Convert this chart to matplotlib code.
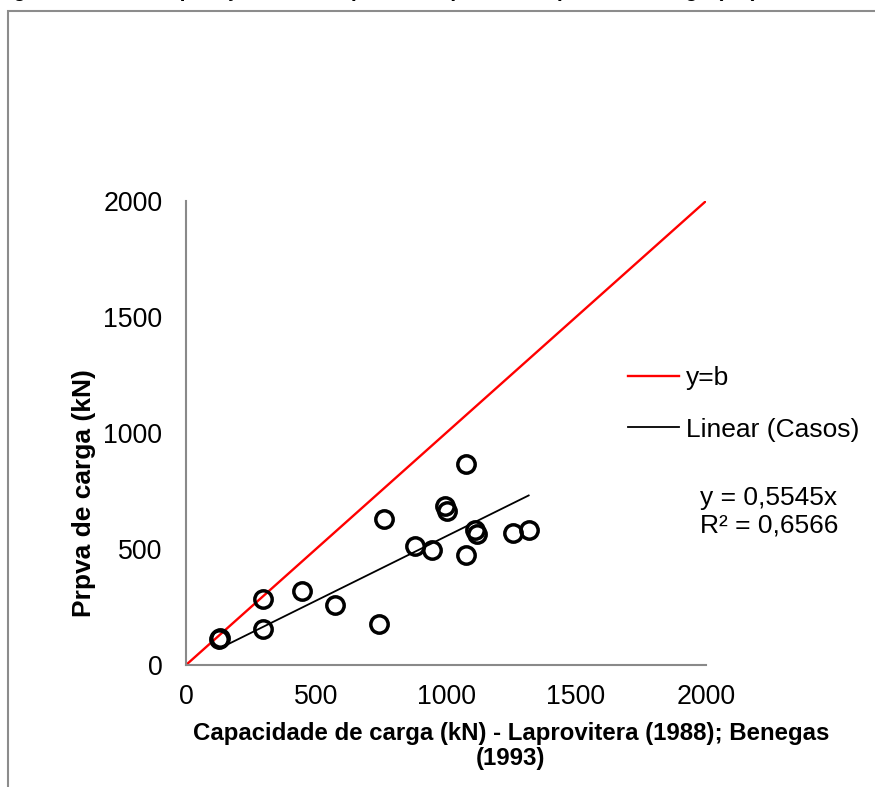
import matplotlib
matplotlib.use('Agg')
from matplotlib import pyplot as plt
from matplotlib.patches import Rectangle

plt.rcParams['font.family'] = ['Liberation Sans', 'DejaVu Sans']

# capacidade prevista (kN) x prova de carga (kN)
cap_prevista = [127, 131, 297, 297, 447, 574, 744, 762, 881, 947, 997, 1003,
                1077, 1077, 1113, 1118, 1257, 1318]
prova_carga = [113, 116, 284, 155, 320, 257, 175, 628, 513, 496, 687, 664,
               866, 475, 582, 565, 569, 580]

reta_ref = [0, 2000]
coef_ang = 0.5545
r2 = 0.6566

ticks = [0, 500, 1000, 1500, 2000]

fig = plt.figure(figsize=(8.75, 7.87), dpi=100)
ax = fig.add_axes([186/875, 1-665/787, 520/875, 464/787])

ax.plot(reta_ref, reta_ref, color='#ff0000', lw=1.7, label='y=b', zorder=2)
ax.plot(cap_prevista, prova_carga, 'o', ms=12.5, mfc='none', mec='black',
        mew=2.5, zorder=3, label='_Casos')
xt = [min(cap_prevista), max(cap_prevista)]
ax.plot(xt, [coef_ang*v for v in xt], color='black', lw=1.3,
        label='Linear (Casos)', zorder=2)

ax.set_xlim(0, 2000)
ax.set_ylim(0, 2000)
ax.set_xticks(ticks)
ax.set_yticks(ticks)
ax.tick_params(length=0, labelsize=19.3)
ax.tick_params(axis='x', pad=14)
ax.tick_params(axis='y', pad=17)
for s in ['top', 'right']:
    ax.spines[s].set_visible(False)
for s in ['left', 'bottom']:
    ax.spines[s].set_color('#898989')
    ax.spines[s].set_linewidth(1.5)

leg = ax.legend(loc='upper left', bbox_to_anchor=(628/875, 1-366/787),
                bbox_transform=fig.transFigure, frameon=False, fontsize=19,
                handlelength=1.95, handletextpad=0.25, labelspacing=1.05,
                borderpad=0, borderaxespad=0)

fig.text(769/875, 1-512/787, 'y = 0,5545x\nR² = 0,6566', ha='center',
         va='center', fontsize=19, linespacing=1.18)

fig.text(511/875, 1-746/787,
         'Capacidade de carga (kN) - Laprovitera (1988); Benegas\n(1993)',
         ha='center', va='center', fontsize=17.3, fontweight='bold',
         linespacing=1.1)
fig.text(84/875, 1-493/787, 'Prpva de carga (kN)', ha='center', va='center',
         rotation=90, fontsize=19, fontweight='bold')

# titulo cortado no topo
fig.text(-6/875, 1+4.4/787,
         'Figura 5.14 – Comparação entre capacidade prevista e prova de carga (kN)',
         ha='left', va='baseline', fontsize=15.5, fontweight='bold')

# moldura
fig.patches.append(Rectangle((7.5/875, -0.1), 1.2, 1.1 - 10.5/787,
                             transform=fig.transFigure, fill=False,
                             edgecolor='#8c8c8c', lw=1.5))

fig.savefig('out.png', dpi=100)
